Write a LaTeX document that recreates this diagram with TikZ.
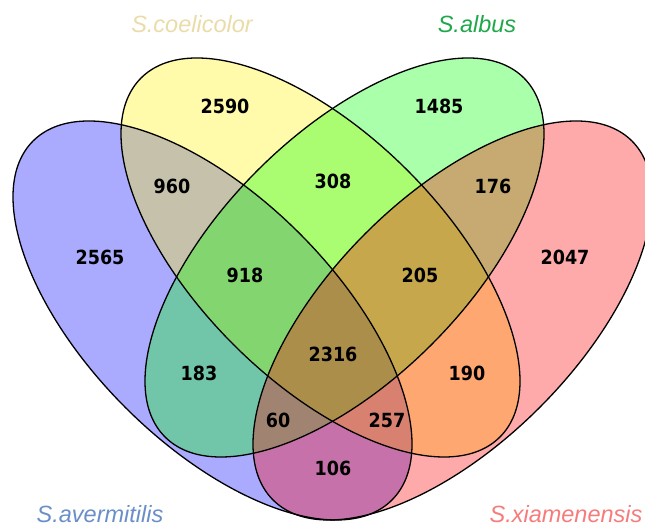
\documentclass[tikz,border=0pt]{standalone}
\usepackage{fontspec}
\setmainfont{Liberation Sans}
\newfontfamily\numfont{DejaVu Sans Condensed}[BoldFont={DejaVu Sans Condensed Bold}]
\definecolor{labA}{RGB}{106,142,200}
\definecolor{labB}{RGB}{234,220,168}
\definecolor{labC}{RGB}{30,168,74}
\definecolor{labD}{RGB}{247,123,123}
\begin{document}
\begin{tikzpicture}[x=1pt,y=1pt]
\tikzset{
  setfill/.style={fill=#1, fill opacity=0.333},
  outline/.style={draw=black, line width=1.3pt},
  num/.style={font=\numfont\bfseries\fontsize{19.5}{20}\selectfont, inner sep=0pt, text=black},
  setlabel/.style={font=\itshape\fontsize{23.5}{24}\selectfont, inner sep=0pt, anchor=base}
}
\useasboundingbox (0,0) rectangle (645,527);
% fills
\path[setfill=blue, rotate around={-45:(212.5,206.5)}] (212.5,206.5) ellipse [x radius=253.8pt, y radius=123.1pt];
\path[setfill=yellow, rotate around={-45:(320.5,269.5)}] (320.5,269.5) ellipse [x radius=253.8pt, y radius=123.1pt];
\path[setfill=green, rotate around={45:(344.5,269.5)}] (344.5,269.5) ellipse [x radius=253.8pt, y radius=123.1pt];
\path[setfill=red, rotate around={45:(452.5,206.5)}] (452.5,206.5) ellipse [x radius=253.8pt, y radius=123.1pt];
% outlines
\path[outline, rotate around={-45:(212.5,206.5)}] (212.5,206.5) ellipse [x radius=253.8pt, y radius=123.1pt];
\path[outline, rotate around={-45:(320.5,269.5)}] (320.5,269.5) ellipse [x radius=253.8pt, y radius=123.1pt];
\path[outline, rotate around={45:(344.5,269.5)}] (344.5,269.5) ellipse [x radius=253.8pt, y radius=123.1pt];
\path[outline, rotate around={45:(452.5,206.5)}] (452.5,206.5) ellipse [x radius=253.8pt, y radius=123.1pt];
% numbers
\node[num] (n2590) at (225,421) {2590};
\node[num] (n1485) at (439,421) {1485};
\node[num] (n960) at (172,341) {960};
\node[num] (n308) at (333,346) {308};
\node[num] (n176) at (493,341) {176};
\node[num] (n2565) at (100,270) {2565};
\node[num] (n918) at (245,252) {918};
\node[num] (n205) at (420,252) {205};
\node[num] (n2047) at (565,270) {2047};
\node[num] (n2316) at (333,173) {2316};
\node[num] (n183) at (199,154) {183};
\node[num] (n190) at (467,154) {190};
\node[num] (n60) at (278,107) {60};
\node[num] (n257) at (387,107) {257};
\node[num] (n106) at (333,59) {106};
% set labels
\node[setlabel, text=labB] (lB) at (192,494) {S.coelicolor};
\node[setlabel, text=labC] (lC) at (477,494) {S.albus};
\node[setlabel, text=labA] (lA) at (100,4) {S.avermitilis};
\node[setlabel, text=labD] (lD) at (566,4) {S.xiamenensis};
\end{tikzpicture}
\end{document}
